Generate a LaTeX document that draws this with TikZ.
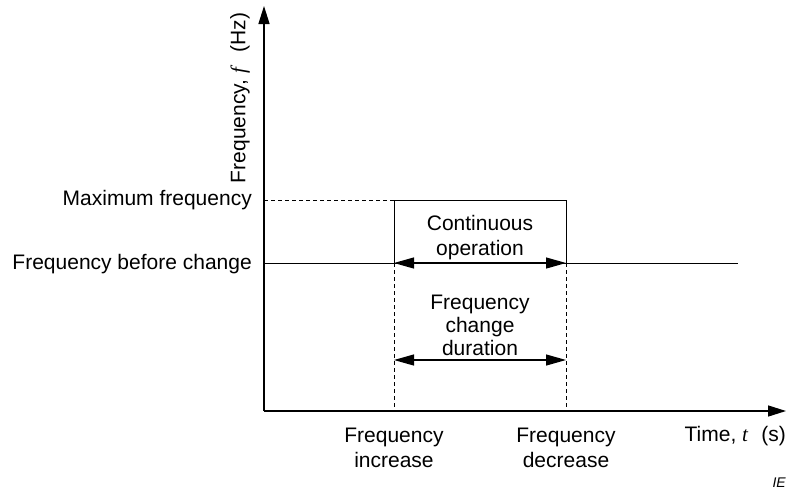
\documentclass[tikz,border=0pt]{standalone}
\usepackage{fontspec}
\setmainfont{Liberation Sans}
\usetikzlibrary{arrows.meta}
\begin{document}
\begin{tikzpicture}[x=1pt,y=-1pt,
  lbl/.style={font=\fontsize{21}{25}\selectfont, inner sep=0pt, align=center},
  axis/.style={line width=1.4pt, -{Triangle[length=18pt,width=11pt]}},
  thin/.style={line width=0.9pt},
  dsh/.style={line width=0.9pt, dash pattern=on 4pt off 3pt},
  dbl/.style={line width=1.2pt, {Triangle[length=20pt,width=11pt]}-{Triangle[length=20pt,width=11pt]}}]
\useasboundingbox (0,0) rectangle (787,493);
% axes
\coordinate (O) at (264,411);
\coordinate (ytip) at (264,6);
\coordinate (xtip) at (786,411);
\draw[axis] (O) -- (ytip);
\draw[axis] (O) -- (xtip);
% key coordinates
\coordinate (mL) at (264,200);
\coordinate (mA) at (394,200);
\coordinate (mB) at (566,200);
\coordinate (bL) at (264,263);
\coordinate (bA) at (394,263);
\coordinate (bB) at (566,263);
\coordinate (bR) at (738,263);
\coordinate (cA) at (394,360);
\coordinate (cB) at (566,360);
\coordinate (zA) at (394,411);
\coordinate (zB) at (566,411);
% lines
\draw[dsh] (mL) -- (mA);
\draw[thin] (bA) -- (mA) -- (mB) -- (bB);
\draw[thin] (bL) -- (bR);
\draw[dsh] (bA) -- (zA);
\draw[dsh] (bB) -- (zB);
\draw[dbl] (bA) -- (bB);
\draw[dbl] (cA) -- (cB);
% labels
\node[lbl, anchor=east] (lmax) at (252,200) {Maximum frequency};
\node[lbl, anchor=east] (lbef) at (252,264) {Frequency before change};
\node[lbl] (lcont) at (480,238) {Continuous\\operation};
\node[lbl, font=\fontsize{21}{23}\selectfont] (ldur) at (480,325) {Frequency\\change\\duration};
\node[lbl] (linc) at (394,448) {Frequency\\increase};
\node[lbl] (ldec) at (566,448) {Frequency\\decrease};
\node[lbl, anchor=east] (ltime) at (786,436) {Time, \textit{\fontspec{Liberation Serif}t}\,\, (s)};
\node[lbl, rotate=90] (lfreq) at (240,98) {Frequency, \textit{\fontspec{Liberation Serif}f}\,\, (Hz)};
\node[font=\fontsize{14}{16}\selectfont\itshape, anchor=east, inner sep=0pt] (lie) at (786,483) {IE};
\end{tikzpicture}
\end{document}
